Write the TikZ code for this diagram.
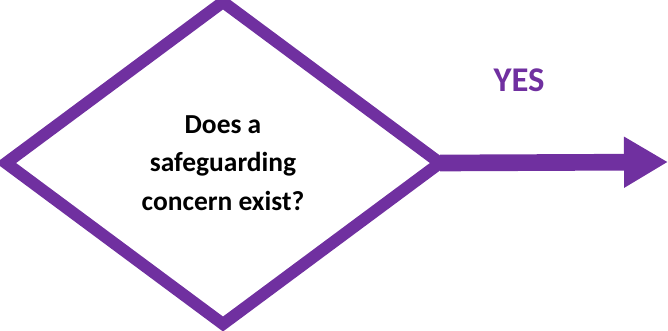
\documentclass[tikz,border=0pt]{standalone}
\usepackage{fontspec}
\setmainfont{Carlito}
\usetikzlibrary{shapes.geometric,arrows.meta}
\definecolor{dpurple}{HTML}{7030A0}
\tikzset{
  decision/.style={diamond, draw=dpurple, line width=9pt, miter limit=10,
    inner sep=0pt, outer sep=0pt, minimum width=325.5pt, minimum height=241.5pt,
    align=center, font=\bfseries\fontsize{20.6}{28.9}\selectfont},
  flowarrow/.style={draw=dpurple, line width=12.5pt,
    -{Triangle[length=33pt,width=36pt]}},
  answer/.style={text=dpurple, font=\bfseries\fontsize{26}{30}\selectfont, inner sep=0pt}
}
\begin{document}
\begin{tikzpicture}[x=0.75pt,y=-0.75pt]
\useasboundingbox (0,0) rectangle (668,330);
\node[decision] (q) at (223,163) {Does a\\safeguarding\\concern exist?};
\coordinate (tip) at (668,162);
\draw[flowarrow] (q.east) -- (tip);
\node[answer] (yes) at (519,80) {YES};
\end{tikzpicture}
\end{document}
